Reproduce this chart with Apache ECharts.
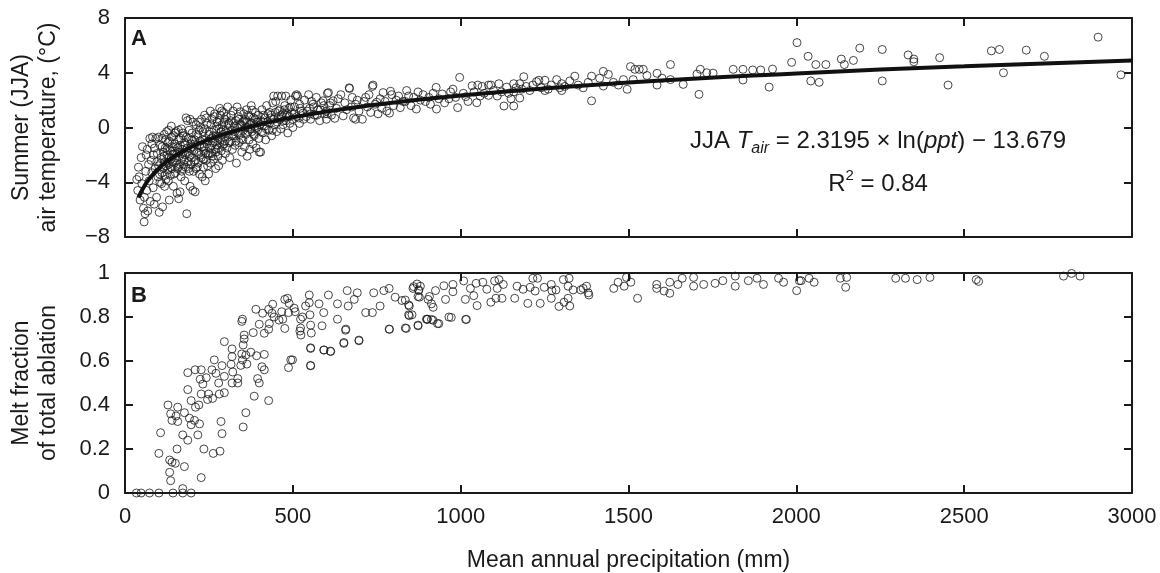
<!DOCTYPE html>
<html>
<head>
<meta charset="utf-8">
<script src="https://cdn.jsdelivr.net/npm/echarts/dist/echarts.min.js"></script>
<style>
  html, body { margin: 0; padding: 0; background: #fff; }
  #chart { width: 1160px; height: 573px; }
</style>
</head>
<body>
<div id="chart"></div>
<script>
// x axis (mean annual precipitation, mm)
var xMin = 0, xMax = 3000, xStep = 500;
// panel A: summer air temperature
var tMin = -8, tMax = 8, tStep = 4;
// panel B: melt fraction
var mMin = 0, mMax = 1, mStep = 0.2;

// panel A observations [ppt, JJA T]
var tempPts = [
  [35,-3.8],[38,-4.6],[40,-2.9],[42,-3.6],[45,-5.3],[48,-2.2],[50,-4.1],[52,-1.4],[55,-5.9],[57,-6.9],
  [58,-5.1],[60,-6.3],[62,-3.2],[63,-2.0],[65,-4.6],[66,-1.6],[68,-6.1],[70,-2.7],[72,-3.9],[74,-0.8],
  [75,-5.4],[78,-2.4],[80,-1.2],[80,-3.3],[82,-0.7],[84,-4.4],[85,-2.0],[87,-5.6],[88,-1.5],[90,-3.0],
  [92,-0.8],[94,-5.1],[95,-2.5],[96,-1.9],[98,-3.6],[100,-0.7],[100,-2.8],[102,-6.2],[104,-4.0],[105,-1.3],
  [108,-2.2],[110,-3.3],[110,-0.8],[112,-5.8],[114,-1.8],[115,-2.9],[117,-0.5],[118,-4.3],[120,-2.5],[120,-1.5],
  [122,-3.8],[124,-0.3],[125,-2.0],[127,-3.1],[128,-1.1],[130,-2.7],[130,-0.2],[132,-5.3],[134,-1.7],[135,-3.5],
  [137,-2.3],[138,0.1],[140,-1.4],[140,-3.0],[142,-2.0],[144,-4.3],[145,-0.6],[147,-2.6],[148,-1.2],[150,-3.3],
  [150,-1.9],[152,-0.3],[154,-2.4],[155,-4.8],[157,-1.5],[158,-2.9],[160,-0.9],[160,-5.2],[162,-2.1],[164,-4.7],
  [165,-1.3],[167,-3.6],[168,-0.1],[170,-2.3],[170,-1.6],[172,-3.0],[174,-0.6],[175,-2.7],[177,-1.1],[178,-3.9],
  [180,-2.0],[182,0.7],[184,-6.3],[185,-1.5],[186,0.5],[188,-2.5],[190,-0.8],[190,-1.9],[192,-3.2],[194,0.6],
  [194,-4.3],[196,-1.2],[198,-2.2],[200,-0.4],
  [103,-3.4],[106,-2.6],[109,-4.1],[111,-1.4],[113,-3.0],[116,-2.1],[119,-3.5],[121,-0.9],[123,-2.8],[126,-1.6],
  [129,-3.9],[131,-2.2],[133,-1.0],[136,-2.9],[139,-0.7],[141,-2.5],[143,-1.7],[146,-3.4],[149,-0.4],[151,-2.2],
  [153,-1.4],[156,-3.0],[159,-0.2],[161,-1.8],[163,-2.7],[166,-0.8],[169,-3.2],[171,-1.9],[173,-0.4],[176,-2.4],
  [179,-1.3],[181,-2.9],[183,-0.7],[187,-1.8],[189,-3.0],[191,-0.2],[193,-2.1],[195,-1.5],[197,-2.7],[199,-0.9],
  [202,-4.6],[204,-3.2],[205,-1.7],[207,-0.9],[209,-4.7],[210,-2.4],[212,0.2],[214,-1.3],[215,-2.9],[217,-0.6],
  [219,0.4],[220,-1.9],[222,-3.4],[224,-1.0],[225,0.0],[227,-2.2],[229,-1.4],[230,-3.6],[232,-0.3],[234,-2.9],
  [235,-1.7],[237,0.9],[239,-3.9],[240,-0.9],[242,-2.4],[244,-1.2],[245,0.3],[247,-2.0],[249,-3.4],[250,-0.5],
  [252,-1.5],[254,1.2],[255,-2.6],[257,-0.8],[259,-1.9],[260,0.6],[262,-1.1],[264,-2.3],[265,-0.2],[267,1.0],
  [269,-1.6],[270,-3.0],[272,-0.6],[274,0.4],[275,-1.3],[277,-2.1],[279,-2.8],[280,-0.1],[282,1.4],[284,0.9],
  [285,-0.9],[287,-1.7],[289,0.2],[290,-2.4],[292,-0.5],[294,1.1],[295,-1.2],[297,0.6],[299,-1.9],[300,-0.3],
  [201,-1.4],[203,0.4],[206,-2.5],[208,-1.2],[211,-3.0],[213,-0.5],[216,-1.8],[218,-2.6],[221,-0.2],[223,-1.3],
  [226,-2.0],[228,0.6],[231,-0.9],[233,-2.3],[236,-1.4],[238,-0.1],[241,-1.9],[243,0.7],[246,-2.8],[248,-1.0],
  [251,-0.3],[253,-1.9],[256,0.2],[258,-1.3],[261,-2.1],[263,-0.6],[266,0.8],[268,-1.0],[271,-1.8],[273,0.1],
  [276,-0.7],[278,-1.5],[281,0.5],[283,-1.1],[286,-0.3],[288,1.2],[291,-1.3],[293,-0.2],[296,0.4],[298,-1.0],
  [302,0.8],[304,-1.5],[306,1.5],[308,-0.7],[310,0.3],[312,-2.2],[314,-1.0],[316,0.9],[318,-0.2],[320,-1.6],
  [322,1.2],[324,-0.6],[326,0.1],[328,-1.3],[330,0.5],[332,-2.6],[334,1.5],[336,-0.4],[338,0.8],[340,-1.1],
  [342,0.2],[344,1.15],[346,-0.8],[348,-1.8],[350,0.4],[352,-0.2],[354,1.0],[356,-1.4],[358,0.6],[360,-0.5],
  [362,1.3],[364,-2.1],[366,0.0],[368,0.9],[370,-0.9],[372,-1.6],[374,0.3],[376,1.6],[378,-0.3],[379,1.27],
  [381,-1.2],[383,0.7],[385,-0.6],[387,0.1],[389,1.1],[391,-1.5],[393,0.4],[395,-0.2],[397,0.9],[399,-0.8],
  [400,-1.8],[404,-1.8],
  [303,-0.4],[307,0.2],[311,-1.1],[315,0.5],[319,-0.6],[323,0.3],[327,-0.3],[331,-1.0],[335,0.0],[339,0.6],
  [343,-0.5],[347,0.2],[351,-0.9],[355,0.5],[359,0.0],[363,0.4],[367,-0.3],[371,0.8],[375,-0.1],[380,0.3],
  [384,-0.5],[388,0.6],[392,0.0],[396,0.4],
  [405,0.5],[408,1.3],[410,-0.4],[413,0.9],[416,0.1],[419,-0.9],[422,1.6],[425,0.4],[428,-0.2],[431,1.1],
  [434,0.7],[437,-0.6],[440,1.8],[443,2.3],[446,0.2],[449,1.9],[452,-0.3],[455,2.3],[458,0.8],[461,1.3],
  [464,-0.1],[467,2.3],[470,1.0],[473,0.5],[476,1.6],[479,2.3],[482,0.9],[485,-0.4],[488,1.4],[491,0.3],
  [494,2.0],[497,1.1],[500,0.0],
  [402,0.2],[407,-0.3],[412,0.4],[417,0.7],[421,-0.1],[426,1.0],[430,0.3],[435,0.9],[439,-0.2],[444,0.6],
  [448,1.1],[453,0.4],[457,1.2],[462,0.6],[466,0.9],[471,0.2],[475,1.3],[480,0.5],[484,1.0],[489,0.8],
  [493,1.5],[498,0.6],[503,1.0],[512,0.8],[522,1.4],[532,0.6],[542,1.2],[552,1.0],[562,1.5],[572,0.9],
  [582,1.3],[592,1.6],[602,1.0],[612,1.8],
  [505,1.5],[508,2.3],[511,2.4],[514,2.3],[517,0.7],[520,1.7],[520,0.3],[525,1.2],[530,1.05],[535,2.0],
  [540,0.8],[547,2.4],[550,1.4],[553,0.6],[556,1.9],[560,1.7],[565,0.9],[570,2.2],[575,1.3],[580,0.5],
  [585,1.8],[590,1.95],[595,1.0],[600,0.6],[600,1.2],[603,2.5],[606,2.55],[610,1.6],[615,0.9],[620,1.95],
  [625,0.67],[630,1.4],[635,2.1],[643,2.4],[650,0.85],[655,1.8],[660,1.3],[668,2.9],[669,2.85],[675,1.5],
  [677,2.2],[681,0.7],[687,0.6],[687,1.7],[692,2.0],[697,1.2],
  [707,0.6],[712,1.9],[717,2.2],[722,1.5],[727,2.4],[732,1.1],[737,3.0],[739,3.1],[745,1.7],[750,1.85],
  [754,1.0],[760,2.1],[765,1.4],[769,2.55],[775,1.9],[780,1.2],[788,1.05],[791,2.65],[795,2.4],[800,1.6],
  [808,2.0],[815,2.3],[820,1.45],[828,1.9],[835,1.9],[839,2.7],[845,2.3],[852,1.6],[860,2.2],[868,1.35],
  [873,2.6],[880,2.0],[888,2.4],[895,1.9],[905,2.2],[910,1.7],[918,2.5],[927,2.93],[928,1.35],[935,2.1],
  [945,2.45],[952,1.8],[965,2.1],[970,2.6],[977,2.8],[985,2.2],[991,1.45],[997,3.66],
  [1008,2.5],[1015,2.25],[1022,1.9],[1034,3.05],[1040,2.6],[1048,1.81],[1051,3.1],[1058,2.3],[1064,3.0],[1070,2.5],
  [1083,3.1],[1083,2.35],[1090,3.1],[1098,2.7],[1109,2.3],[1114,3.2],[1122,2.6],[1129,1.57],[1137,2.95],[1143,2.5],
  [1150,2.1],[1158,3.2],[1158,2.6],[1158,1.57],[1165,2.9],[1176,3.2],[1176,2.15],[1182,2.8],[1188,3.71],[1195,3.0],
  [1206,2.7],[1215,3.1],[1226,3.35],[1233,3.45],[1240,2.9],[1251,3.45],[1251,2.7],[1261,2.8],[1270,3.1],[1286,3.5],
  [1295,2.9],[1301,3.2],[1301,2.7],[1310,3.0],[1325,3.4],[1340,3.75],[1350,3.1],[1365,2.9],[1380,3.3],[1390,3.75],
  [1390,1.95],
  [1414,3.6],[1425,4.1],[1425,3.03],[1440,3.88],[1455,3.3],[1470,3.1],[1485,3.5],[1496,2.79],[1506,4.45],[1514,3.5],
  [1519,4.25],[1532,4.25],[1544,4.25],[1555,3.8],[1585,3.96],[1585,3.1],[1600,3.6],[1625,4.6],[1625,3.5],[1663,3.15],
  [1704,3.9],[1710,2.42],[1714,4.25],[1733,4.0],[1752,3.97],[1812,4.25],[1841,4.25],[1841,3.47],[1870,4.2],[1894,4.2],
  [1919,2.95],[1929,4.27],[1986,4.76],
  [2002,6.2],[2035,5.2],[2058,4.6],[2088,4.6],[2043,3.4],[2068,3.3],[2134,5.0],[2143,4.6],[2170,4.9],[2189,5.8],
  [2256,5.7],[2256,3.4],[2333,5.3],[2350,5.0],[2350,4.8],[2427,5.1],[2452,3.1],[2581,5.6],[2605,5.7],[2617,4.0],
  [2685,5.65],[2739,5.2],[2899,6.6],[2967,3.85]
];

// fitted curve [ppt, T]
var fitX = [40, 60, 80, 100, 120, 150, 200, 250, 300, 400, 500, 700, 1000, 1500, 2000, 2500, 3000];
var fitY = [-5.12, -4.18, -3.52, -3.00, -2.57, -2.06, -1.39, -0.87, -0.45, 0.22, 0.74, 1.52, 2.34, 3.28, 3.95, 4.47, 4.89];

// panel B observations [ppt, melt fraction]
var meltPts = [
  [34,0],[48,0],[73,0],[101,0],[143,0],[172,0],[197,0],[172,0.02],[227,0.07],[136,0.056],
  [133,0.094],[133,0.15],[140,0.14],[150,0.135],[101,0.18],[177,0.12],[106,0.274],[155,0.2],[172,0.264],[187,0.24],
  [217,0.264],[235,0.2],[263,0.18],[283,0.19],[289,0.27],[286,0.325],[352,0.3],[360,0.365],[128,0.40],[136,0.36],
  [140,0.33],[157,0.39],[152,0.35],[157,0.325],[177,0.365],[192,0.34],[197,0.31],[207,0.33],[222,0.314],[210,0.39],
  [197,0.42],[187,0.47],[187,0.547],[209,0.56],[227,0.56],[220,0.40],[227,0.45],[224,0.517],[232,0.495],[242,0.524],
  [249,0.45],[246,0.425],[261,0.43],[259,0.56],[266,0.605],[271,0.544],[279,0.5],[281,0.45],[296,0.456],[289,0.579],
  [296,0.53],[296,0.688],[316,0.585],[319,0.655],[319,0.62],[321,0.55],[319,0.5],[336,0.5],[336,0.52],[345,0.58],
  [348,0.632],[350,0.605],[352,0.673],[355,0.718],[355,0.70],[348,0.78],[350,0.79],[360,0.627],[363,0.586],[375,0.64],
  [382,0.729],[385,0.44],[392,0.624],[395,0.52],[400,0.5],[408,0.574],[415,0.56],[415,0.63],[428,0.42],[415,0.726],
  [390,0.835],[400,0.767],[410,0.817],[428,0.835],[428,0.744],[430,0.77],[440,0.858],[438,0.817],[444,0.80],[459,0.786],
  [467,0.824],[470,0.79],[476,0.748],[476,0.88],[484,0.885],[489,0.862],[487,0.82],[504,0.84],[507,0.824],[494,0.605],
  [487,0.57],[521,0.736],[524,0.718],[529,0.80],
  [549,0.90],[549,0.865],[551,0.81],[553,0.763],[555,0.727],[553,0.66],[553,0.58],[523,0.75],[523,0.79],[538,0.85],
  [578,0.86],[592,0.82],[592,0.65],[612,0.645],[587,0.76],[606,0.90],[633,0.79],[633,0.86],[652,0.68],[658,0.745],
  [662,0.92],[665,0.85],[683,0.88],[697,0.695],[692,0.91],[717,0.82],[741,0.91],[737,0.82],[760,0.85],[771,0.92],
  [787,0.93],[787,0.745],[805,0.89],[825,0.875],[835,0.75],[845,0.855],[845,0.81],[858,0.93],[875,0.92],[873,0.76],
  [877,0.89],[898,0.79],[903,0.88],
  [553,0.657],[593,0.65],[613,0.643],[652,0.684],[697,0.692],[657,0.74],[788,0.744],[838,0.748],[873,0.763],[855,0.81],
  [901,0.79],[918,0.785],[935,0.77],[972,0.798],[1015,0.789],[499,0.605],[553,0.578],
  [835,0.877],[847,0.85],[847,0.806],[860,0.938],[870,0.95],[875,0.923],[873,0.893],[880,0.94],[900,0.789],[907,0.893],
  [913,0.86],[913,0.789],[918,0.844],[925,0.92],[931,0.77],[950,0.942],[955,0.88],[965,0.80],[977,0.948],[977,0.915],
  [1009,0.964],[1014,0.88],[1017,0.789],[1029,0.93],[1039,0.897],[1049,0.852],[1046,0.953],[1066,0.958],[1078,0.926],[1090,0.867],
  [1101,0.964],[1109,0.93],[1114,0.97],[1105,0.885],[1123,0.885],[1127,0.948],[1161,0.885],[1168,0.94],[1186,0.926],[1200,0.862],
  [1207,0.935],[1215,0.976],[1229,0.976],[1222,0.918],[1237,0.862],[1249,0.935],[1270,0.948],[1272,0.92],[1270,0.885],[1284,0.923],
  [1293,0.848],[1306,0.97],[1308,0.867],[1320,0.885],[1323,0.976],[1325,0.85],[1320,0.94],[1335,0.923],[1358,0.923],[1365,0.93],
  [1375,0.94],[1380,0.91],[1382,0.9],[1456,0.93],[1469,0.958],[1487,0.94],[1494,0.98],[1507,0.958],[1527,0.885],[1584,0.948],
  [1584,0.93],[1606,0.918],[1623,0.958],[1623,0.908],[1647,0.948],[1660,0.976],[1694,0.98],[1694,0.94],[1724,0.948],[1758,0.953],
  [1781,0.965],[1818,0.986],[1818,0.94],[1857,0.965],[1883,0.976],[1902,0.948],[1947,0.976],[1962,0.958],[2001,0.92],[2009,0.965],
  [2014,0.965],[2038,0.976],[2053,0.958],[2131,0.976],[2150,0.98],[2147,0.935],[2296,0.976],[2325,0.976],[2360,0.97],[2398,0.98],
  [2536,0.97],[2543,0.962],[2796,0.986],[2820,0.998],[2845,0.986]
];

var fitData = fitX.map(function (x, i) { return [x, fitY[i]]; });

var font = 'Liberation Sans, Arial, sans-serif';
var ink = '#1a1a1a';
var minus = function (v) { return String(v).replace('-', '\u2212'); };

function xAx(grid, pos, labels, name) {
  return {
    type: 'value', gridIndex: grid, position: pos,
    min: xMin, max: xMax, interval: xStep,
    axisLine: { onZero: false, lineStyle: { color: ink, width: 2 } },
    axisTick: { inside: true, length: 8, lineStyle: { color: ink, width: 2 } },
    axisLabel: { show: labels, margin: 13, color: ink, fontSize: 22, fontFamily: font,
                 formatter: function (v) { return String(v); } },
    splitLine: { show: false },
    name: name || '', nameLocation: 'middle', nameGap: 56,
    nameTextStyle: { color: ink, fontSize: 23, fontFamily: font }
  };
}
function yAx(grid, pos, labels, lo, hi, step, name) {
  return {
    type: 'value', gridIndex: grid, position: pos,
    min: lo, max: hi, interval: step,
    axisLine: { onZero: false, lineStyle: { color: ink, width: 2 } },
    axisTick: { inside: true, length: 8, lineStyle: { color: ink, width: 2 } },
    axisLabel: { show: labels, margin: 15, color: ink, fontSize: 22, fontFamily: font, formatter: minus },
    splitLine: { show: false },
    name: name || '', nameLocation: 'middle', nameRotate: 90, nameGap: 63,
    nameTextStyle: { color: ink, fontSize: 23, lineHeight: 27, fontFamily: font }
  };
}

var circle = {
  type: 'scatter', symbol: 'circle', symbolSize: 8,
  itemStyle: { color: 'rgba(0,0,0,0)', borderColor: ink, borderWidth: 1 }
};

var chart = echarts.init(document.getElementById('chart'), null, { renderer: 'canvas' });
chart.setOption({
  animation: false,
  backgroundColor: '#fff',
  grid: [
    { left: 122, right: 28, top: 18, height: 219 },
    { left: 122, right: 28, top: 273, height: 220 }
  ],
  xAxis: [
    xAx(0, 'bottom', false),
    xAx(0, 'top', false),
    xAx(1, 'bottom', true, 'Mean annual precipitation (mm)'),
    xAx(1, 'top', false)
  ],
  yAxis: [
    yAx(0, 'left', true, tMin, tMax, tStep, 'Summer (JJA)\nair temperature, (\u00b0C)'),
    yAx(0, 'right', false, tMin, tMax, tStep),
    yAx(1, 'left', true, mMin, mMax, mStep, 'Melt fraction\nof total ablation'),
    yAx(1, 'right', false, mMin, mMax, mStep)
  ],
  series: [
    Object.assign({}, circle, { xAxisIndex: 0, yAxisIndex: 0, data: tempPts, z: 2 }),
    {
      type: 'line', xAxisIndex: 0, yAxisIndex: 0, data: fitData, smooth: true,
      showSymbol: false, symbol: 'none', z: 3,
      lineStyle: { color: '#111', width: 4 }
    },
    Object.assign({}, circle, { xAxisIndex: 2, yAxisIndex: 2, data: meltPts, z: 2 })
  ],
  graphic: [
    { type: 'text', x: 131, y: 28, style: { text: 'A', fill: ink, font: 'bold 22px ' + font } },
    { type: 'text', x: 131, y: 285, style: { text: 'B', fill: ink, font: 'bold 22px ' + font } },
    {
      type: 'text', x: 878, y: 141, z: 10,
      style: {
        text: '{n|JJA }{i|T}{s|air}{n| = 2.3195 \u00d7 ln(}{i|ppt}{n|) \u2212 13.679}',
        align: 'center', verticalAlign: 'middle', fill: ink,
        rich: {
          n: { fontSize: 24, fontFamily: font, lineHeight: 32, fill: ink },
          i: { fontSize: 24, fontFamily: font, fontStyle: 'italic', lineHeight: 32, fill: ink },
          s: { fontSize: 16, fontFamily: font, fontStyle: 'italic', lineHeight: 16, verticalAlign: 'bottom', fill: ink }
        }
      }
    },
    {
      type: 'text', x: 878, y: 184, z: 10,
      style: {
        text: '{n|R}{p|2}{n| = 0.84}',
        align: 'center', verticalAlign: 'middle', fill: ink,
        rich: {
          n: { fontSize: 24, fontFamily: font, lineHeight: 32, fill: ink },
          p: { fontSize: 15, fontFamily: font, lineHeight: 15, verticalAlign: 'top', fill: ink }
        }
      }
    }
  ]
});
</script>
</body>
</html>
